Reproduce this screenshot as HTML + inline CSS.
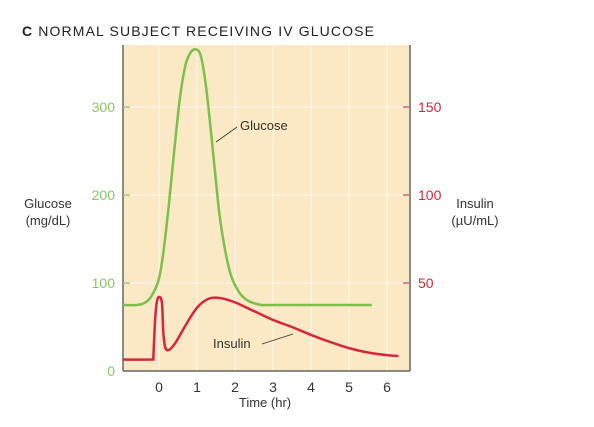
<!DOCTYPE html>
<html><head><meta charset="utf-8"><style>
body{margin:0;background:#fff;width:594px;height:422px;overflow:hidden;font-family:"Liberation Sans",sans-serif}
</style></head><body>
<svg width="594" height="422" font-family="Liberation Sans, sans-serif">
<text x="22" y="36" font-size="14" fill="#222" textLength="352" lengthAdjust="spacing"><tspan font-weight="bold">C</tspan>  NORMAL SUBJECT RECEIVING IV GLUCOSE</text>
<rect x="123" y="45" width="287" height="326" fill="#fbe8c4"/>
<g id="grid"></g>
<line x1="123" y1="45" x2="123" y2="371" stroke="#666" stroke-width="1.5"/>
<line x1="410" y1="45" x2="410" y2="371" stroke="#666" stroke-width="1.5"/>
<line x1="123" y1="371" x2="410" y2="371" stroke="#666" stroke-width="1.5"/>
<g id="ticks" font-size="14"></g>
<path id="glu" fill="none" stroke="#7cbf4a" stroke-width="2.5"/>
<path id="ins" fill="none" stroke="#d7263d" stroke-width="2.5"/>
<text x="240" y="130" font-size="13" fill="#333">Glucose</text>
<line x1="237" y1="127" x2="216" y2="142" stroke="#333" stroke-width="0.8"/>
<text x="213" y="348" font-size="13" fill="#333">Insulin</text>
<line x1="262" y1="344" x2="293" y2="334" stroke="#333" stroke-width="0.8"/>
<text x="48" y="208" font-size="13" fill="#333" text-anchor="middle">Glucose</text>
<text x="48" y="225" font-size="13" fill="#333" text-anchor="middle">(mg/dL)</text>
<text x="475" y="208" font-size="13" fill="#333" text-anchor="middle">Insulin</text>
<text x="475" y="225" font-size="13" fill="#333" text-anchor="middle">(µU/mL)</text>
<text x="265" y="407" font-size="13" fill="#333" text-anchor="middle">Time (hr)</text>
</svg>
<script>
const xTicks=[0,1,2,3,4,5,6];
const gTicks=[0,100,200,300];
const iTicks=[50,100,150];
const gluT=[-0.95,-0.6,-0.4,-0.25,-0.1,0,0.1,0.25,0.4,0.55,0.7,0.85,1.0,1.1,1.2,1.3,1.4,1.5,1.6,1.75,1.9,2.1,2.3,2.5,2.7,3.0,5.6];
const gluV=[75,75,77,82,93,105,130,185,250,310,348,363,365,358,335,300,258,215,175,135,108,90,81,77,75,75,75];
const insT=[-0.95,-0.15,-0.15,-0.1,-0.05,0.02,0.08,0.12,0.2,0.4,0.7,1.0,1.3,1.6,2,2.5,3,3.5,4,4.5,5,5.5,6,6.3];
const insV=[6.5,6.5,7,30,40,42,38,20,12,15,26,36,41,41.5,39,34,29,25,20.5,16.5,13,10.5,9,8.5];
const X=t=>159+t*38, Yg=v=>371-v*0.88, Yi=v=>371-v*1.76;
const NS="http://www.w3.org/2000/svg";
const grid=document.getElementById('grid'),ticks=document.getElementById('ticks');
function mk(tag,at,parent){const e=document.createElementNS(NS,tag);for(const k in at)e.setAttribute(k,at[k]);parent.appendChild(e);return e;}
xTicks.forEach(t=>{
 const l=mk('line',{x1:X(t),x2:X(t),y1:45,y2:371,stroke:'#fff',"stroke-width":1,opacity:0.8},grid);
 
 
 const tx=mk('text',{x:X(t),y:392,"text-anchor":"middle",fill:'#333'},ticks);tx.textContent=t;
 
 
});
gTicks.forEach(v=>{
 if(v>0){const l=mk('line',{x1:123,x2:410,y1:Yg(v),y2:Yg(v),stroke:'#fff',"stroke-width":1,opacity:0.8},grid);
 
 
 mk('line',{x1:123,x2:130,y1:Yg(v),y2:Yg(v),stroke:'#9bd077',"stroke-width":1.5},ticks);}
 const tx=mk('text',{x:115,y:Yg(v)+5,"text-anchor":"end",fill:'#8cc860'},ticks);tx.textContent=v;
 
 
});
iTicks.forEach(v=>{
 mk('line',{x1:403,x2:410,y1:Yi(v),y2:Yi(v),stroke:'#e0607a',"stroke-width":1.5},ticks);
 const tx=mk('text',{x:418,y:Yi(v)+5,fill:'#d7263d'},ticks);tx.textContent=v;
 
 
});
function path(T,V,Y){
 const p=T.map((t,i)=>[X(t),Y(V[i])]);
 let d='M'+p[0][0]+','+p[0][1];
 for(let i=1;i<p.length;i++){
  const p0=p[Math.max(i-2,0)],p1=p[i-1],p2=p[i],p3=p[Math.min(i+1,p.length-1)];
  if(p1[0]===p2[0]){d+='L'+p2[0]+','+p2[1];continue;}
  const c1x=p1[0]+(p2[0]-p0[0])/6,c1y=p1[1]+(p2[1]-p0[1])/6,c2x=p2[0]-(p3[0]-p1[0])/6,c2y=p2[1]-(p3[1]-p1[1])/6;
  d+='C'+c1x+','+c1y+' '+c2x+','+c2y+' '+p2[0]+','+p2[1];
 }
 return d;
}
document.getElementById('glu').setAttribute('d',path(gluT,gluV,Yg));
document.getElementById('ins').setAttribute('d',path(insT,insV,Yi));
</script>
</body></html>
